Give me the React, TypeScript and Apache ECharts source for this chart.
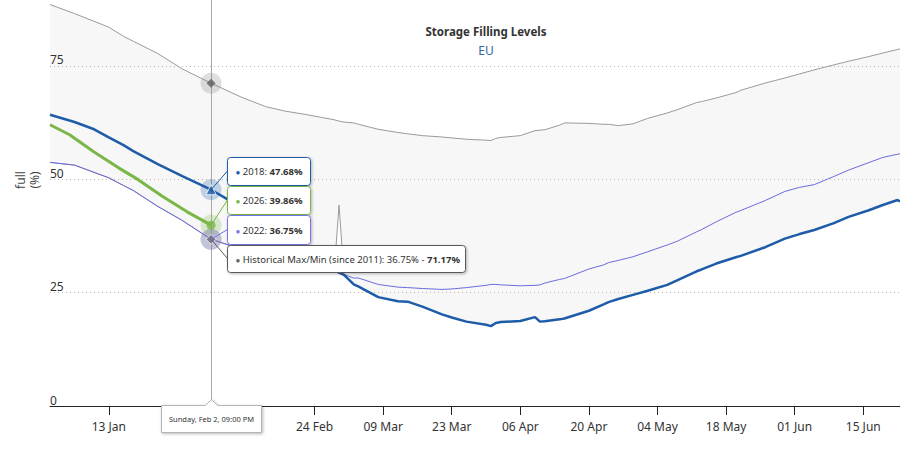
import React, { useEffect, useRef } from "react";
import * as echarts from "echarts";

// ---------- data (x = days since 1 Jan) ----------
const BASE_DATE_UTC = Date.UTC(2020, 0, 1);
const MONTHS = ["Jan", "Feb", "Mar", "Apr", "May", "Jun", "Jul", "Aug", "Sep", "Oct", "Nov", "Dec"];

const tickDays = [12, 26, 40, 54, 68, 82, 96, 110, 124, 138, 152, 166];
const labelDays = [12, 54, 68, 82, 96, 110, 124, 138, 152, 166]; // 27 Jan / 10 Feb lie under the date tooltip
const yTicks = [0, 25, 50, 75];

const bandDays = [0, 5, 9, 12, 15, 17, 22, 27, 32.875, 39, 44, 48, 52, 57, 58, 59, 60, 62, 63, 67, 71, 73, 76, 80, 82, 85, 89, 90, 91, 92, 96, 99, 100, 101, 104, 105, 110, 113, 114, 116, 119, 122, 126, 128, 132, 133, 136, 140, 141, 146, 150, 153, 156, 160, 163, 167, 170, 173, 173.5];
const histMax = [88.5, 86.5, 84.8, 83.5, 81.5, 80.4, 77.7, 74.3, 71.17, 68.1, 66.0, 65.0, 64.3, 63.3, 63.1, 62.8, 62.6, 62.4, 62.1, 61.0, 60.3, 60.0, 59.6, 59.3, 59.1, 58.8, 58.6, 58.5, 59.0, 59.2, 59.6, 60.7, 60.8, 60.9, 61.9, 62.4, 62.3, 62.1, 62.1, 61.8, 62.2, 63.4, 64.6, 65.3, 66.9, 67.1, 67.9, 69.1, 69.6, 71.2, 72.3, 73.2, 74.1, 75.2, 76.0, 77.0, 77.8, 78.6, 78.7];
const histMin = [53.7, 53.1, 51.5, 50.3, 48.6, 47.5, 44.0, 40.9, 36.75, 34.6, 33.0, 31.8, 30.8, 29.8, 29.6, 44.3, 28.9, 26.8, 26.3, 24.0, 23.1, 23.0, 21.9, 20.2, 19.5, 18.6, 17.9, 17.6, 18.3, 18.5, 18.75, 19.6, 18.6, 18.7, 19.1, 19.3, 21.0, 22.4, 22.9, 23.6, 24.5, 25.4, 26.7, 27.7, 29.7, 30.1, 31.4, 32.8, 33.1, 35.0, 36.9, 37.9, 38.8, 40.3, 41.7, 43.1, 44.3, 45.4, 45.1];

const days2022 = [0, 5, 9, 12, 15, 17, 22, 27, 32.875, 39, 44, 48, 52, 57, 58, 59, 60, 62, 63, 67, 71, 73, 76, 80, 82, 85, 89, 90, 91, 92, 96, 99, 100, 101, 104, 105, 110, 113, 114, 116, 119, 122, 126, 128, 132, 133, 136, 140, 141, 146, 150, 153, 156, 160, 163, 167, 170, 173, 173.5];
const values2022 = [53.7, 53.1, 51.5, 50.3, 48.6, 47.5, 44.0, 40.9, 36.75, 34.6, 33.0, 31.8, 30.8, 29.8, 29.6, 29.3, 29.0, 28.2, 28.2, 26.8, 26.2, 26.1, 25.9, 25.7, 25.8, 26.1, 26.6, 26.8, 26.8, 26.7, 26.5, 26.6, 26.7, 27.1, 27.9, 28.1, 30.2, 31.1, 31.6, 32.1, 32.9, 34.0, 35.5, 36.3, 38.4, 38.9, 40.6, 42.7, 43.1, 45.3, 47.3, 48.2, 48.8, 50.6, 52.0, 53.6, 54.8, 55.5, 55.6];

const days2018 = [0, 5, 9, 12, 15, 17, 22, 27, 32.875, 36, 39, 44, 48, 52, 57, 58, 59, 60, 62, 63, 67, 71, 73, 76, 80, 82, 85, 89, 90, 91, 92, 96, 99, 100, 101, 104, 105, 110, 113, 114, 116, 119, 122, 126, 128, 132, 133, 136, 140, 141, 146, 150, 153, 156, 160, 163, 167, 170, 173, 173.5];
const values2018 = [64.2, 62.6, 61.0, 59.2, 57.5, 56.2, 53.3, 50.7, 47.68, 45.7, 44.0, 40.3, 37.3, 34.3, 30.8, 30.0, 29.4, 28.9, 26.8, 26.3, 24.0, 23.1, 23.0, 21.9, 20.2, 19.5, 18.6, 17.9, 17.6, 18.3, 18.5, 18.75, 19.6, 18.6, 18.7, 19.1, 19.3, 21.0, 22.4, 22.9, 23.6, 24.5, 25.4, 26.7, 27.7, 29.7, 30.1, 31.4, 32.8, 33.1, 35.0, 36.9, 37.9, 38.8, 40.3, 41.7, 43.1, 44.3, 45.4, 45.1];

const days2026 = [0, 4, 9, 14, 18, 23, 28, 32.875];
const values2026 = [62.0, 59.8, 56.0, 52.5, 49.9, 46.2, 42.8, 39.86];

const hoverDay = 32.875;
const hoverDateLabel = "Sunday, Feb 2, 09:00 PM";
const hover2018 = 47.68;
const hover2026 = 39.86;
const hover2022 = 36.75;
const hoverMin = 36.75;
const hoverMax = 71.17;

// ---------- styles ----------
const FONT = '"Noto Sans", "Open Sans", sans-serif';
const C2018 = "#1d5ca8";
const C2026 = "#7ab648";
const C2022 = "#6b6bdd";
const CHIST = "#9a9a9a";
const TEXT = "#333333";

const zip = (xs: number[], ys: number[]) => xs.map((x, i) => [x, ys[i]]);

function fmtDay(v: number) {
  const d = new Date(BASE_DATE_UTC + Math.round(v) * 86400000);
  const dd = String(d.getUTCDate()).padStart(2, "0");
  return `${dd} ${MONTHS[d.getUTCMonth()]}`;
}

export default function App() {
  const ref = useRef<HTMLDivElement>(null);

  useEffect(() => {
    document.body.style.margin = "0";
    if (!ref.current) return;
    const chart = echarts.init(ref.current, undefined, { renderer: "svg" });

    const halo = (v: number, color: string) => ({
      value: [hoverDay, v],
      symbol: "circle",
      symbolSize: 21,
      itemStyle: { color, opacity: 0.25 },
    });

    chart.setOption({
      animation: false,
      textStyle: { fontFamily: FONT },
      grid: { left: 50, right: 0, top: 0, bottom: 44, outerBoundsMode: "none" },
      xAxis: {
        type: "value",
        min: 0,
        max: 173.5,
        z: 3,
        axisLine: { show: true, onZero: false, lineStyle: { color: "#222", width: 1 } },
        axisTick: { show: true, length: 9, lineStyle: { color: "#222" }, customValues: tickDays },
        axisLabel: { customValues: labelDays, formatter: fmtDay, color: TEXT, fontSize: 12, margin: 14, fontFamily: FONT },
        splitLine: { show: false },
      },
      yAxis: {
        type: "value",
        min: 0,
        max: 89.5,
        interval: 25,
        z: 2,
        axisLine: { show: false },
        axisTick: { show: false },
        axisLabel: {
          inside: true,
          margin: 0,
          color: TEXT,
          fontSize: 12,
          fontFamily: FONT,
          verticalAlign: "bottom",
          showMaxLabel: false,
          formatter: (v: number) => (yTicks.includes(v) ? String(v) : ""),
        },
        splitLine: {
          show: true,
          showMinLine: false,
          showMaxLine: false,
          lineStyle: { color: "#c2b39c", type: [1, 3], width: 1 },
        },
      },
      series: [
        {
          name: "Historical Max/Min (since 2011)",
          type: "custom",
          silent: true,
          z: 1,
          data: [[0, 0]],
          encode: { x: 0, y: 1 },
          renderItem: (_params: any, api: any) => {
            const upper = bandDays.map((d, i) => api.coord([d, histMax[i]]));
            const lower = bandDays.map((d, i) => api.coord([d, histMin[i]])).reverse();
            return {
              type: "polygon",
              shape: { points: upper.concat(lower) },
              style: { fill: "rgba(0,0,0,0.032)" },
            };
          },
        },
        {
          name: "crosshair",
          type: "scatter",
          data: [],
          silent: true,
          z: 3,
          markLine: {
            silent: true,
            symbol: ["none", "none"],
            label: { show: false },
            lineStyle: { color: "#a8a8a8", width: 1, type: "solid" },
            data: [{ xAxis: hoverDay }],
          },
        },
        {
          name: "Historical Max",
          type: "line",
          data: zip(bandDays, histMax),
          symbol: "none",
          lineStyle: { color: CHIST, width: 1 },
          z: 4,
        },
        {
          name: "Historical Min",
          type: "line",
          data: zip(bandDays, histMin),
          symbol: "none",
          lineStyle: { color: CHIST, width: 1 },
          z: 4,
        },
        {
          name: "2022",
          type: "line",
          data: zip(days2022, values2022),
          symbol: "none",
          lineStyle: { color: C2022, width: 1 },
          z: 5,
        },
        {
          name: "2018",
          type: "line",
          data: zip(days2018, values2018),
          symbol: "none",
          lineStyle: { color: C2018, width: 2.5 },
          z: 6,
        },
        {
          name: "2026",
          type: "line",
          data: zip(days2026, values2026),
          symbol: "none",
          lineStyle: { color: C2026, width: 3 },
          z: 7,
        },
        {
          name: "halos",
          type: "scatter",
          silent: true,
          z: 8,
          data: [halo(hoverMax, "#808080"), halo(hover2018, C2018), halo(hover2026, C2026), halo(hover2022, C2022), halo(hoverMin, "#808080")],
        },
        {
          name: "markers",
          type: "scatter",
          silent: true,
          z: 9,
          data: [
            { value: [hoverDay, hoverMax], symbol: "diamond", symbolSize: 9, itemStyle: { color: "#5e5e5e" } },
            { value: [hoverDay, hover2018], symbol: "triangle", symbolSize: 10, itemStyle: { color: C2018, borderColor: "#fff", borderWidth: 1 } },
            { value: [hoverDay, hover2026], symbol: "circle", symbolSize: 9, itemStyle: { color: C2026 } },
            { value: [hoverDay, hover2022], symbol: "circle", symbolSize: 8, itemStyle: { color: C2022 } },
            { value: [hoverDay, hoverMin], symbol: "diamond", symbolSize: 10, itemStyle: { color: "#7a7a7a", borderColor: "#fff", borderWidth: 1 } },
          ],
        },
      ],
    });

    // ---------- annotations (title, axis title, split tooltip) ----------
    const px = (x: number, y: number) => chart.convertToPixel({ gridIndex: 0 } as any, [x, y]) as number[];
    const shadow = { shadowBlur: 3, shadowOffsetX: 1, shadowOffsetY: 1, shadowColor: "rgba(0,0,0,0.28)" };

    const tips = [
      { label: "2018: ", val: `${hover2018.toFixed(2)}%`, color: C2018, border: C2018, v: hover2018, top: 157, h: 28, w: 83 },
      { label: "2026: ", val: `${hover2026.toFixed(2)}%`, color: C2026, border: C2026, v: hover2026, top: 186, h: 28, w: 83 },
      { label: "2022: ", val: `${hover2022.toFixed(2)}%`, color: "#7878ee", border: "#7474e8", v: hover2022, top: 215, h: 29, w: 83 },
      {
        label: `Historical Max/Min (since 2011): ${hoverMin.toFixed(2)}% - `,
        val: `${hoverMax.toFixed(2)}%`,
        color: "#666",
        border: "#5a5a5a",
        v: hoverMin,
        top: 245,
        h: 27,
        w: 238,
      },
    ];

    const elements: any[] = [];
    tips.forEach((t, i) => {
      const [ax, ay] = px(hoverDay, t.v);
      const left = Math.round(ax) + 16.5;
      const mid = t.top + t.h / 2;
      elements.push({
        type: "line",
        z: 100 + i * 3,
        shape: { x1: left, y1: mid, x2: ax, y2: ay },
        style: { stroke: t.border, lineWidth: 1 },
      });
      elements.push({
        type: "rect",
        z: 101 + i * 3,
        shape: { x: left, y: t.top + 0.5, width: t.w, height: t.h, r: 3 },
        style: { fill: "#ffffff", stroke: t.border, lineWidth: 1, ...shadow },
      });
      elements.push({
        type: "text",
        z: 102 + i * 3,
        style: {
          x: left + 8,
          y: mid + 0.5,
          text: `{d|●} ${t.label}{b|${t.val}}`,
          fill: TEXT,
          fontSize: 9.5,
          fontFamily: FONT,
          verticalAlign: "middle",
          align: "left",
          rich: {
            d: { fill: t.color, fontSize: 8, fontFamily: FONT },
            b: { fill: TEXT, fontSize: 9.5, fontWeight: "bold", fontFamily: FONT },
          },
        },
      });
    });

    const [hx, hy0] = px(hoverDay, 0);
    const cx = Math.round(hx) + 0.5;
    const bTop = Math.round(hy0) - 0.5;
    const bLeft = cx - 50;
    const bRight = cx + 50;
    const bBottom = bTop + 27;
    elements.push({
      type: "polygon",
      z: 120,
      shape: {
        points: [
          [bLeft, bTop],
          [cx - 6, bTop],
          [cx, bTop - 6],
          [cx + 6, bTop],
          [bRight, bTop],
          [bRight, bBottom],
          [bLeft, bBottom],
        ],
      },
      style: { fill: "#ffffff", stroke: "#b5b5b5", lineWidth: 1, ...shadow },
    });
    elements.push({
      type: "text",
      z: 121,
      style: {
        x: cx,
        y: (bTop + bBottom) / 2,
        text: hoverDateLabel,
        fill: TEXT,
        fontSize: 7.5,
        fontFamily: FONT,
        align: "center",
        verticalAlign: "middle",
      },
    });

    elements.push({
      type: "text",
      z: 50,
      style: {
        x: 486,
        y: 31,
        text: "Storage Filling Levels",
        fill: TEXT,
        fontSize: 11.5,
        fontWeight: "bold",
        fontFamily: FONT,
        align: "center",
        verticalAlign: "middle",
      },
    });
    elements.push({
      type: "text",
      z: 50,
      style: {
        x: 486,
        y: 50,
        text: "EU",
        fill: "#3566a6",
        fontSize: 12,
        fontFamily: FONT,
        align: "center",
        verticalAlign: "middle",
      },
    });
    elements.push({
      type: "text",
      z: 50,
      x: 27,
      y: 180,
      rotation: Math.PI / 2,
      style: {
        x: 0,
        y: 0,
        text: "full\n(%)",
        fill: "#444",
        fontSize: 12,
        lineHeight: 14,
        fontFamily: FONT,
        align: "center",
        verticalAlign: "middle",
      },
    });

    chart.setOption({ graphic: { elements } });

    return () => chart.dispose();
  }, []);

  return <div ref={ref} style={{ width: 900, height: 450 }} />;
}
